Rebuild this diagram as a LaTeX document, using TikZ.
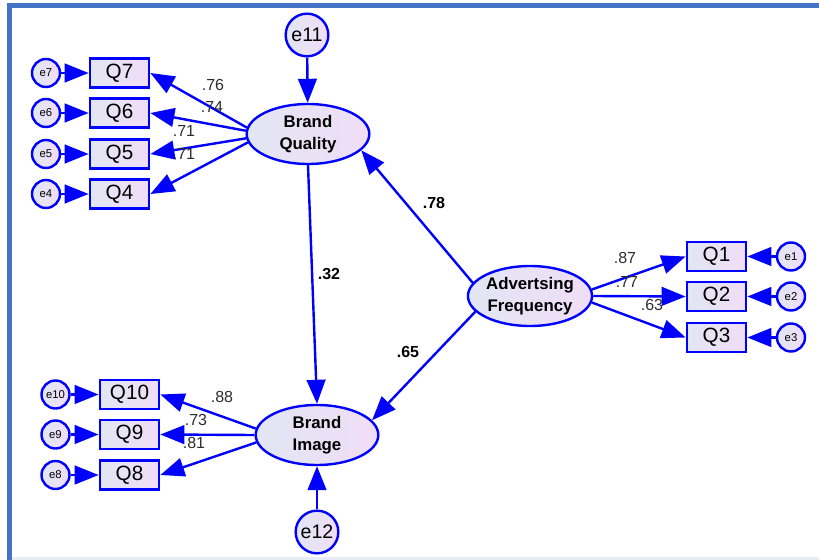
\documentclass[tikz,border=0pt]{standalone}
\usepackage{fontspec}
\setmainfont{Liberation Sans}
\usepackage{tikz}
\usetikzlibrary{arrows.meta}
\usetikzlibrary{shapes.geometric}
\usetikzlibrary{positioning}
\definecolor{pathblue}{RGB}{0,0,255}
\definecolor{framecol}{RGB}{68,114,196}
\definecolor{framelight}{RGB}{232,236,246}
\definecolor{fillleft}{RGB}{226,230,243}
\definecolor{fillright}{RGB}{240,221,246}
\definecolor{labgray}{RGB}{45,45,45}

\begin{document}
\begin{tikzpicture}[x=0.75pt,y=-0.75pt,->,>={Triangle[length=18pt,width=14pt]},line width=1.8pt,
    lat node/.style={ellipse,draw=pathblue,left color=fillleft,right color=fillright,minimum width=92pt,minimum height=45pt,inner sep=0pt,align=center,font=\fontsize{12.6}{16.5}\selectfont\bfseries},
    obs node/.style={rectangle,draw=pathblue,left color=fillleft,right color=fillright,minimum width=44.5pt,minimum height=22pt,inner sep=0pt,font=\fontsize{15.5}{18}\selectfont},
    err node/.style={circle,draw=pathblue,left color=fillleft,right color=fillright,minimum size=32pt,inner sep=0pt,font=\fontsize{14.7}{17}\selectfont},
    small err node/.style={circle,draw=pathblue,left color=fillleft,right color=fillright,minimum size=21pt,inner sep=0pt,font=\fontsize{8.5}{10}\selectfont},
    reg edge/.style={color=pathblue,line width=1.8pt},
    load/.style={inner sep=0pt,text=labgray,font=\fontsize{12}{14}\selectfont},
    path label/.style={inner sep=0pt,font=\fontsize{12}{14}\selectfont\bfseries}]
   \useasboundingbox (0,0) rectangle (819,560);
   % frame
   \fill[framecol] (7,3) rectangle (819,8);
   \fill[framecol] (7,3) rectangle (12,560);
   \fill[framelight] (12,557) rectangle (819,560);
   \begin{scope}
      % latent variables
      \node[lat node] (bq) at (308,134) {Brand\\Quality};
      \node[lat node] (bi) at (317,435) {Brand\\Image};
      \node[lat node] (af) at (530,296) {Advertsing\\Frequency};
      \node[err node] (e11) at (307,35) {e11};
      \node[err node] (e12) at (317,532) {e12};
      % brand quality items
      \node[obs node] (q7) at (119.5,73) {Q7};
      \node[obs node] (q6) at (119.5,113) {Q6};
      \node[obs node] (q5) at (119.5,154) {Q5};
      \node[obs node] (q4) at (119.5,194) {Q4};
      \node[small err node] (e7) at (46,73) {e7};
      \node[small err node] (e6) at (46,113) {e6};
      \node[small err node] (e5) at (46,154) {e5};
      \node[small err node] (e4) at (46,194) {e4};
      % brand image items
      \node[obs node] (q10) at (129.5,394.5) {Q10};
      \node[obs node] (q9) at (129.5,434.5) {Q9};
      \node[obs node] (q8) at (129.5,475) {Q8};
      \node[small err node] (e10) at (55.5,394.5) {e10};
      \node[small err node] (e9) at (55.5,434.5) {e9};
      \node[small err node] (e8) at (55.5,475) {e8};
      % advertising items
      \node[obs node] (q1) at (716.5,256.5) {Q1};
      \node[obs node] (q2) at (716.5,296.5) {Q2};
      \node[obs node] (q3) at (716.5,337.5) {Q3};
      \node[small err node] (e1) at (791,256.5) {e1};
      \node[small err node] (e2) at (791,296.5) {e2};
      \node[small err node] (e3) at (791,337.5) {e3};
      % structural paths
      \path[reg edge] (e11) edge (bq);
      \path[reg edge] (e12) edge (bi);
      \path[reg edge] (bq.south) edge (bi.north);
      \path[reg edge] (af.167) edge (bq.-17);
      \path[reg edge] (af.196) edge (bi.15);
      % loadings
      \path[reg edge] (bq.174) edge (q7.east);
      \path[reg edge] (bq.177) edge (q6.east);
      \path[reg edge] (bq.184) edge (q5.east);
      \path[reg edge] (bq.188) edge (q4.east);
      \path[reg edge] (bi.174) edge (q10.east);
      \path[reg edge] (bi.180) edge (q9.east);
      \path[reg edge] (bi.187) edge (q8.east);
      \path[reg edge] (af.6) edge (q1.west);
      \path[reg edge] (af.0) edge (q2.west);
      \path[reg edge] (af.354) edge (q3.west);
      % errors
      \path[reg edge] (e7) edge (q7);
      \path[reg edge] (e6) edge (q6);
      \path[reg edge] (e5) edge (q5);
      \path[reg edge] (e4) edge (q4);
      \path[reg edge] (e10) edge (q10);
      \path[reg edge] (e9) edge (q9);
      \path[reg edge] (e8) edge (q8);
      \path[reg edge] (e1) edge (q1);
      \path[reg edge] (e2) edge (q2);
      \path[reg edge] (e3) edge (q3);
      % estimates
      \node[path label] (l78) at (434,203) {.78};
      \node[path label] (l32) at (329,274) {.32};
      \node[path label] (l65) at (408,352) {.65};
      \node[load] (l76) at (213,85) {.76};
      \node[load] (l74) at (212,107) {.74};
      \node[load] (l71a) at (184,131) {.71};
      \node[load] (l71b) at (184,154) {.71};
      \node[load] (l88) at (222,397) {.88};
      \node[load] (l73) at (196,420) {.73};
      \node[load] (l81) at (194,443) {.81};
      \node[load] (l87) at (625,258) {.87};
      \node[load] (l77) at (627,282) {.77};
      \node[load] (l63) at (652,305) {.63};
    \end{scope}
  \end{tikzpicture}
\end{document}
